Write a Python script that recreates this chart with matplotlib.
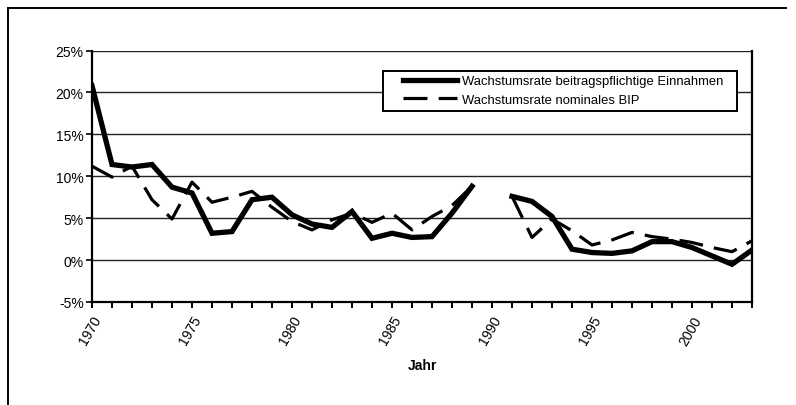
import numpy as np
import matplotlib
matplotlib.use("Agg")
import matplotlib.pyplot as plt
from matplotlib.lines import Line2D
from matplotlib.patches import Rectangle
from matplotlib.ticker import FuncFormatter, MultipleLocator

plt.rcParams['font.family'] = ['Liberation Sans Narrow', 'Liberation Sans', 'DejaVu Sans']

# Data (growth rates in %)
years = np.arange(1970, 2004)
einnahmen = [20.8, 11.4, 11.1, 11.4, 8.7, 8.0, 3.2, 3.4, 7.2, 7.5,
             5.4, 4.3, 3.9, 5.8, 2.6, 3.2, 2.7, 2.8, 5.6, 8.8,
             np.nan, 7.6, 7.0, 5.2, 1.3, 0.9, 0.8, 1.1, 2.2, 2.2,
             1.5, 0.5, -0.5, 1.2]
bip = [11.2, 9.9, 11.2, 7.2, 4.9, 9.3, 6.9, 7.5, 8.2, 6.3,
       4.6, 3.6, 4.8, 5.6, 4.5, 5.6, 3.6, 5.2, 6.5, 8.8,
       np.nan, 7.6, 2.7, 4.9, 3.5, 1.8, 2.4, 3.3, 2.8, 2.5,
       2.1, 1.5, 1.0, 2.3]
label_solid = 'Wachstumsrate beitragspflichtige Einnahmen'
label_dash = 'Wachstumsrate nominales BIP'

W, H = 796, 406
fig = plt.figure(figsize=(W / 100, H / 100), dpi=100)
ax = fig.add_axes([92 / W, 1 - 303 / H, (752 - 92) / W, (303 - 51.5) / H])

l1, = ax.plot(years, einnahmen, color='black', linewidth=3.8, solid_joinstyle='miter',
              label=label_solid, zorder=3)
l2, = ax.plot(years, bip, color='black', linewidth=2.3, dashes=(7.5, 3.5),
              label=label_dash, zorder=4)

ax.set_xlim(1970, 2003)
ax.set_ylim(-5, 25)
ax.yaxis.set_major_locator(MultipleLocator(5))
ax.yaxis.set_major_formatter(FuncFormatter(lambda v, p: f'{v:.0f}%'))
ax.xaxis.set_major_locator(MultipleLocator(5))
ax.xaxis.set_minor_locator(MultipleLocator(1))
ax.xaxis.set_major_formatter(FuncFormatter(lambda v, p: f'{v:.0f}'))

ax.grid(axis='y', color='#222222', linewidth=1.0)
ax.set_axisbelow(True)
for s in ['left', 'bottom', 'right']:
    ax.spines[s].set_linewidth(1.6)
    ax.spines[s].set_color('black')
ax.spines['top'].set_visible(False)

ax.tick_params(axis='y', length=4, width=1.2, labelsize=10, pad=2)
ax.tick_params(axis='x', which='both', length=4, width=1.4, direction='out')
ax.tick_params(axis='x', labelsize=10, pad=4)
for lab in ax.get_xticklabels():
    lab.set_rotation(60)
    lab.set_ha('right')
    lab.set_rotation_mode('anchor')

ax.set_xlabel('Jahr', fontsize=10, fontweight='bold', labelpad=8)

# legend box: white frame drawn separately, legend entries on top
fig.add_artist(Rectangle((383 / W, 1 - 112 / H), 354 / W, 40 / H,
                         transform=fig.transFigure, facecolor='white',
                         edgecolor='black', linewidth=1.4, zorder=2))
fig.legend([l1, l2], [label_solid, label_dash], loc='upper left',
           bbox_to_anchor=(403 / W, 1 - 76 / H), bbox_transform=fig.transFigure,
           borderaxespad=0, borderpad=0, frameon=False, fontsize=9.4,
           handlelength=4.1, handletextpad=0.45, labelspacing=0.5)

# outer chart frame (left and top edges visible)
fig.add_artist(Line2D([8 / W, 8 / W], [0, 1 - 9 / H], color='black', linewidth=1.4))
fig.add_artist(Line2D([8 / W, 786 / W], [1 - 9 / H, 1 - 9 / H], color='black', linewidth=1.4))

fig.savefig('out.png', dpi=100)
